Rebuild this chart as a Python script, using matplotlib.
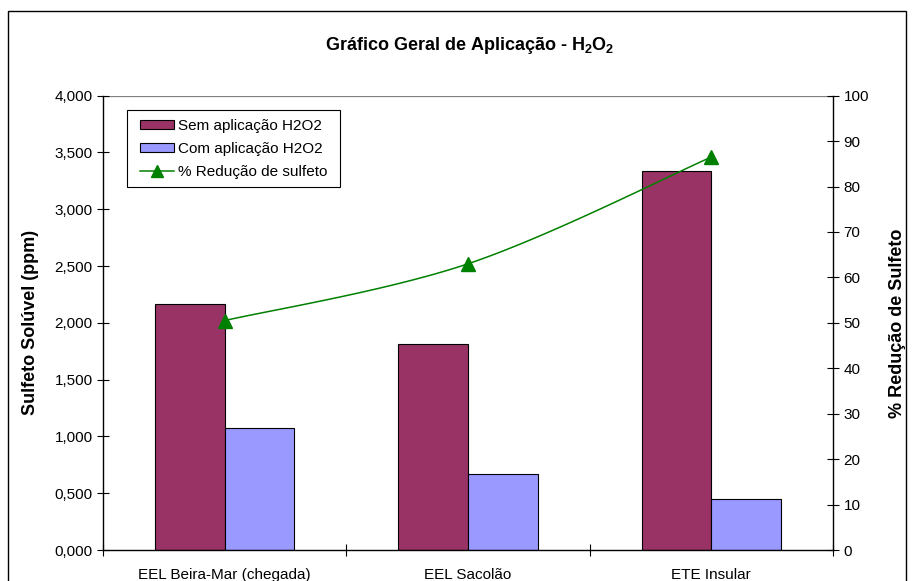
import matplotlib
matplotlib.use("Agg")
import matplotlib.pyplot as plt
import numpy as np
from matplotlib.patches import Rectangle
from matplotlib.lines import Line2D
from matplotlib.ticker import FuncFormatter

categories = ["EEL Beira-Mar (chegada)", "EEL Sacolão", "ETE Insular"]
sem_aplicacao = [2.170, 1.810, 3.340]
com_aplicacao = [1.075, 0.670, 0.450]
reducao = [50.5, 63.0, 86.5]
left_ticks = [0, 0.5, 1.0, 1.5, 2.0, 2.5, 3.0, 3.5, 4.0]
right_ticks = [0, 10, 20, 30, 40, 50, 60, 70, 80, 90, 100]

plt.rcParams['font.family'] = ['Liberation Sans', 'DejaVu Sans']

W, H = 915, 581
fig = plt.figure(figsize=(W / 100, H / 100), dpi=100)
fig.patch.set_facecolor('white')

# chart area border
fig.patches.append(Rectangle((8 / W, -0.1), (906 - 8) / W, 1.1 - 11 / H,
                             transform=fig.transFigure, fill=False,
                             edgecolor='black', linewidth=1.0))

ax = fig.add_axes([103 / W, 1 - 550 / H, (833 - 103) / W, (550 - 95.7) / H])
ax2 = ax.twinx()

x = np.arange(len(categories))
w = 1 / 3.5
maroon = '#993366'
blue = '#9999FF'
green = '#008000'

ax.bar(x - w / 2, sem_aplicacao, w, color=maroon, edgecolor='black', linewidth=0.8, zorder=2)
ax.bar(x + w / 2, com_aplicacao, w, color=blue, edgecolor='black', linewidth=0.8, zorder=2)

ax.set_xlim(-0.5, len(categories) - 0.5)
ax.set_ylim(0, 4)
ax.set_yticks(left_ticks)
ax.yaxis.set_major_formatter(FuncFormatter(lambda v, p: f"{v:.3f}".replace('.', ',')))
ax.set_xticks(x)
ax.set_xticklabels(categories, fontsize=11)
ax.tick_params(axis='x', length=0, pad=13)
ax.set_xticks(np.arange(-0.5, len(categories), 1.0), minor=True)
ax.tick_params(axis='x', which='minor', direction='inout', length=9, width=0.8)
ax.tick_params(axis='y', direction='inout', length=9, width=0.8, labelsize=11, pad=3)

ax.spines['top'].set_visible(False)
ax2.spines['top'].set_visible(False)
ax.spines['right'].set_visible(False)
ax2.spines['left'].set_visible(False)
ax2.spines['bottom'].set_visible(False)
for sp in [ax.spines['left'], ax.spines['bottom'], ax2.spines['right']]:
    sp.set_linewidth(1.0)

# top border line of plot area (grey)
ax.axhline(4, color='#808080', linewidth=0.9, zorder=1)

ax2.set_ylim(0, 100)
ax2.set_yticks(right_ticks)
ax2.tick_params(axis='y', direction='inout', length=9, width=0.8, labelsize=11, pad=3)

# smoothed line (Bezier/Catmull-Rom, like an Excel smooth line)
px = np.array(x, dtype=float)
py = np.array(reducao, dtype=float)
P = np.column_stack([px, py])
P_ext = np.vstack([P[0], P, P[-1]])
curve = []
t = np.linspace(0, 1, 40)
for i in range(1, len(P_ext) - 2):
    p0, p1, p2, p3 = P_ext[i - 1], P_ext[i], P_ext[i + 1], P_ext[i + 2]
    c1 = p1 + (p2 - p0) / 6
    c2 = p2 - (p3 - p1) / 6
    seg = ((1 - t) ** 3)[:, None] * p1 + (3 * (1 - t) ** 2 * t)[:, None] * c1 \
        + (3 * (1 - t) * t ** 2)[:, None] * c2 + (t ** 3)[:, None] * p2
    curve.append(seg)
curve = np.vstack(curve)
ax2.plot(curve[:, 0], curve[:, 1], color=green, linewidth=1.1, zorder=3)
ax2.plot(px, py, linestyle='none', marker='^', markersize=10, color=green, zorder=4)

ax.set_ylabel("Sulfeto Solúvel (ppm)", fontsize=13, fontweight='bold')
ax2.set_ylabel("% Redução de Sulfeto", fontsize=13, fontweight='bold')
ax.yaxis.set_label_coords((39 - 103) / 730, 0.5)
ax2.yaxis.set_label_coords((889 - 103) / 730, 0.5)

fig.text(470 / W, 1 - 45 / H, r"Gráfico Geral de Aplicação - H$_\mathregular{2}$O$_\mathregular{2}$",
         ha='center', va='center', fontsize=13, fontweight='bold')

# legend: frame drawn as a separate box, entries placed inside
legbox = Rectangle((127 / W, 1 - 187 / H), (340 - 127) / W, (187 - 110) / H,
                   transform=fig.transFigure, facecolor='white',
                   edgecolor='black', linewidth=0.8, zorder=4.5)
ax2.add_artist(legbox)
handles = [
    Rectangle((0, 0), 1, 1, facecolor=maroon, edgecolor='black', linewidth=0.8),
    Rectangle((0, 0), 1, 1, facecolor=blue, edgecolor='black', linewidth=0.8),
    Line2D([0], [0], color=green, marker='^', markersize=8, linewidth=1.1),
]
labels = ["Sem aplicação H2O2", "Com aplicação H2O2", "% Redução de sulfeto"]
leg = ax2.legend(handles, labels, loc='upper left',
                 bbox_to_anchor=(140 / W, 1 - 119 / H), bbox_transform=fig.transFigure,
                 frameon=False, fontsize=11,
                 handlelength=2.2, handleheight=0.55, handletextpad=0.3, borderpad=0,
                 labelspacing=0.58, borderaxespad=0)
leg.set_zorder(6)

fig.savefig("out.png", dpi=100, facecolor='white')
